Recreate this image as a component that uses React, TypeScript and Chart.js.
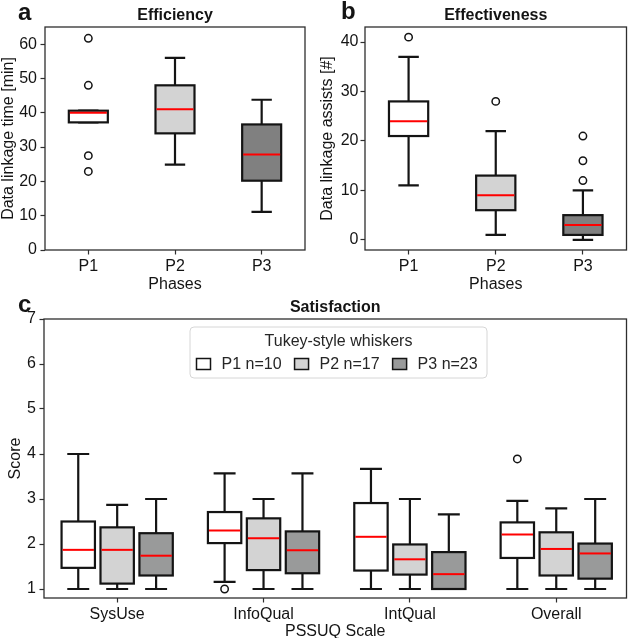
import React, { useEffect, useRef } from "react";
import { Chart, registerables } from "chart.js";

Chart.register(...registerables);

// ---------------- Data ----------------
const phases = ["P1", "P2", "P3"];
const phaseN = [10, 17, 23];

// (a) Efficiency: data linkage time [min]
const effLow = [37.2, 24.9, 11.1];
const effQ1 = [37.2, 34.0, 20.2];
const effMedian = [40.0, 41.0, 27.8];
const effQ3 = [40.6, 48.0, 36.6];
const effHigh = [40.6, 56.0, 43.8];
const effOutliers = [[61.7, 48.0, 27.5, 22.9], [], []];
const effTicks = [0, 10, 20, 30, 40, 50, 60];

// (b) Effectiveness: data linkage assists [#]
const assLow = [11, 1, 0];
const assQ1 = [21, 6, 1];
const assMedian = [24, 9, 3];
const assQ3 = [28, 13, 5];
const assHigh = [37, 22, 10];
const assOutliers = [[41], [28], [21, 16, 12]];
const assTicks = [0, 10, 20, 30, 40];

// (c) Satisfaction: PSSUQ scales
const pssuqScales = ["SysUse", "InfoQual", "IntQual", "Overall"];
const satTicks = [1, 2, 3, 4, 5, 6, 7];

const satP1Low = [1.0, 1.16, 1.0, 1.0];
const satP1Q1 = [1.47, 2.02, 1.41, 1.69];
const satP1Median = [1.87, 2.3, 2.16, 2.21];
const satP1Q3 = [2.5, 2.71, 2.91, 2.48];
const satP1High = [4.0, 3.57, 3.67, 2.96];
const satP1Outliers = [[], [1.0], [], [3.89]];

const satP2Low = [1.0, 1.0, 1.0, 1.0];
const satP2Q1 = [1.12, 1.42, 1.32, 1.3];
const satP2Median = [1.87, 2.13, 1.66, 1.89];
const satP2Q3 = [2.37, 2.57, 1.99, 2.26];
const satP2High = [2.87, 3.0, 3.0, 2.79];
const satP2Outliers = [[], [], [], []];

const satP3Low = [1.0, 1.0, 1.0, 1.0];
const satP3Q1 = [1.3, 1.35, 1.0, 1.23];
const satP3Median = [1.74, 1.86, 1.33, 1.79];
const satP3Q3 = [2.24, 2.28, 1.82, 2.01];
const satP3High = [3.0, 3.57, 2.66, 3.0];
const satP3Outliers = [[], [], [], []];

// ---------------- Styles ----------------
const FONT = "'Liberation Sans', Arial, Helvetica, sans-serif";
const INK = "#141414";
const SPINE = "#2e2e2e";
const FILLS_AB = ["#ffffff", "#d3d3d3", "#808080"];
const FILLS_C = ["#ffffff", "#d3d3d3", "#999a9a"];
const TXT = 16;

type Box = {
  x: number;
  low: number;
  q1: number;
  med: number;
  q3: number;
  high: number;
  outliers: number[];
  fill: string;
  width: number;
  cap: number;
};

type Panel = {
  id: string;
  left: number;
  top: number;
  W: number;
  H: number;
  area: { left: number; top: number; right: number; bottom: number };
  xMin: number;
  xMax: number;
  xTicks: number[];
  xLabels: string[];
  yMin: number;
  yMax: number;
  yTicks: number[];
  yTickPad: number;
  xTickPad: number;
  boxes: Box[];
  title: string;
  titleY: number;
  letter: string;
  letterX: number;
  letterY: number;
  xLabel: string;
  xLabelY: number;
  yLabel: string;
  yLabelX: number;
  legend: boolean;
};

function makeSimpleBoxes(
  low: number[], q1: number[], med: number[], q3: number[], high: number[], outl: number[][]
): Box[] {
  return phases.map((_, i) => ({
    x: i + 1,
    low: low[i],
    q1: q1[i],
    med: med[i],
    q3: q3[i],
    high: high[i],
    outliers: outl[i],
    fill: FILLS_AB[i],
    width: 0.45,
    cap: 0.235,
  }));
}

function makeSatBoxes(): Box[] {
  const sets = [
    [satP1Low, satP1Q1, satP1Median, satP1Q3, satP1High, satP1Outliers],
    [satP2Low, satP2Q1, satP2Median, satP2Q3, satP2High, satP2Outliers],
    [satP3Low, satP3Q1, satP3Median, satP3Q3, satP3High, satP3Outliers],
  ] as any[];
  const offsets = [-0.266, 0, 0.266];
  const out: Box[] = [];
  pssuqScales.forEach((_, g) => {
    sets.forEach((s, p) => {
      out.push({
        x: g + 1 + offsets[p],
        low: s[0][g],
        q1: s[1][g],
        med: s[2][g],
        q3: s[3][g],
        high: s[4][g],
        outliers: s[5][g],
        fill: FILLS_C[p],
        width: 0.228,
        cap: 0.15,
      });
    });
  });
  return out;
}

const panels: Panel[] = [
  {
    id: "a",
    left: 0,
    top: 0,
    W: 316,
    H: 300,
    area: { left: 45, top: 27, right: 305, bottom: 250 },
    xMin: 0.5,
    xMax: 3.5,
    xTicks: [1, 2, 3],
    xLabels: phases,
    yMin: 0,
    yMax: 65,
    yTicks: effTicks,
    yTickPad: 3.5,
    xTickPad: 2,
    boxes: makeSimpleBoxes(effLow, effQ1, effMedian, effQ3, effHigh, effOutliers),
    title: "Efficiency",
    titleY: 20,
    letter: "a",
    letterX: 18,
    letterY: 20,
    xLabel: "Phases",
    xLabelY: 288.5,
    yLabel: "Data linkage time [min]",
    yLabelX: 9,
    legend: false,
  },
  {
    id: "b",
    left: 316,
    top: 0,
    W: 316,
    H: 300,
    area: { left: 49, top: 27, right: 315, bottom: 250 },
    xMin: 0.5,
    xMax: 3.5,
    xTicks: [1, 2, 3],
    xLabels: phases,
    yMin: -2.05,
    yMax: 43.05,
    yTicks: assTicks,
    yTickPad: 2,
    xTickPad: 2,
    boxes: makeSimpleBoxes(assLow, assQ1, assMedian, assQ3, assHigh, assOutliers),
    title: "Effectiveness",
    titleY: 20,
    letter: "b",
    letterX: 25,
    letterY: 19,
    xLabel: "Phases",
    xLabelY: 288.5,
    yLabel: "Data linkage assists [#]",
    yLabelX: 12,
    legend: false,
  },
  {
    id: "c",
    left: 0,
    top: 290,
    W: 632,
    H: 348,
    area: { left: 44, top: 29, right: 627, bottom: 308 },
    xMin: 0.5,
    xMax: 4.48,
    xTicks: [1, 2, 3, 4],
    xLabels: pssuqScales,
    yMin: 0.8,
    yMax: 7,
    yTicks: satTicks,
    yTickPad: 3.5,
    xTickPad: 2,
    boxes: makeSatBoxes(),
    title: "Satisfaction",
    titleY: 22,
    letter: "c",
    letterX: 18,
    letterY: 22,
    xLabel: "PSSUQ Scale",
    xLabelY: 345.5,
    yLabel: "Score",
    yLabelX: 15.5,
    legend: true,
  },
];

function makePlugin(cfg: Panel) {
  return {
    id: "boxdraw_" + cfg.id,
    beforeDatasetsDraw(chart: any) {
      const { ctx } = chart;
      const xs = chart.scales.x;
      const ys = chart.scales.y;
      ctx.save();
      for (const b of cfg.boxes) {
        const xc = xs.getPixelForValue(b.x);
        const hw = xs.getPixelForValue(b.x + b.width / 2) - xc;
        const hc = xs.getPixelForValue(b.x + b.cap / 2) - xc;
        const pLow = ys.getPixelForValue(b.low);
        const pQ1 = ys.getPixelForValue(b.q1);
        const pMed = ys.getPixelForValue(b.med);
        const pQ3 = ys.getPixelForValue(b.q3);
        const pHigh = ys.getPixelForValue(b.high);
        ctx.strokeStyle = INK;
        ctx.lineWidth = 2.2;
        ctx.lineCap = "butt";
        ctx.beginPath();
        ctx.moveTo(xc, pQ3);
        ctx.lineTo(xc, pHigh);
        ctx.moveTo(xc - hc, pHigh);
        ctx.lineTo(xc + hc, pHigh);
        ctx.moveTo(xc, pQ1);
        ctx.lineTo(xc, pLow);
        ctx.moveTo(xc - hc, pLow);
        ctx.lineTo(xc + hc, pLow);
        ctx.stroke();
        ctx.fillStyle = b.fill;
        ctx.fillRect(xc - hw, pQ3, 2 * hw, pQ1 - pQ3);
        ctx.strokeRect(xc - hw, pQ3, 2 * hw, pQ1 - pQ3);
        ctx.strokeStyle = "#ff0000";
        ctx.lineWidth = 2;
        ctx.beginPath();
        ctx.moveTo(xc - hw + 1, pMed);
        ctx.lineTo(xc + hw - 1, pMed);
        ctx.stroke();
      }
      ctx.restore();
    },
    afterDraw(chart: any) {
      const { ctx, chartArea: ca } = chart;
      ctx.save();
      // frame
      ctx.strokeStyle = SPINE;
      ctx.lineWidth = 1.3;
      ctx.strokeRect(ca.left, ca.top, ca.right - ca.left, ca.bottom - ca.top);
      // title
      ctx.fillStyle = INK;
      ctx.textBaseline = "alphabetic";
      ctx.textAlign = "center";
      ctx.font = `bold ${TXT}px ${FONT}`;
      ctx.fillText(cfg.title, (ca.left + ca.right) / 2, cfg.titleY);
      // panel letter
      ctx.textAlign = "left";
      ctx.font = `bold 24px ${FONT}`;
      ctx.fillText(cfg.letter, cfg.letterX, cfg.letterY);
      // x label
      ctx.textAlign = "center";
      ctx.font = `${TXT}px ${FONT}`;
      ctx.fillText(cfg.xLabel, (ca.left + ca.right) / 2, cfg.xLabelY);
      // y label
      ctx.save();
      ctx.translate(cfg.yLabelX, (ca.top + ca.bottom) / 2);
      ctx.rotate(-Math.PI / 2);
      ctx.textBaseline = "middle";
      ctx.fillText(cfg.yLabel, 0, 0);
      ctx.restore();
      // legend
      if (cfg.legend) {
        const lx = 190, ly = 37, lw = 297, lh = 51, r = 4;
        ctx.beginPath();
        ctx.moveTo(lx + r, ly);
        ctx.arcTo(lx + lw, ly, lx + lw, ly + lh, r);
        ctx.arcTo(lx + lw, ly + lh, lx, ly + lh, r);
        ctx.arcTo(lx, ly + lh, lx, ly, r);
        ctx.arcTo(lx, ly, lx + lw, ly, r);
        ctx.closePath();
        ctx.fillStyle = "rgba(255,255,255,0.85)";
        ctx.fill();
        ctx.strokeStyle = "#d6d6d6";
        ctx.lineWidth = 1;
        ctx.stroke();
        ctx.fillStyle = "#262626";
        ctx.textAlign = "center";
        ctx.textBaseline = "alphabetic";
        ctx.font = `${TXT}px ${FONT}`;
        ctx.fillText("Tukey-style whiskers", lx + lw / 2, 56);
        ctx.textAlign = "left";
        let cx = 196.5;
        phases.forEach((p, i) => {
          ctx.fillStyle = FILLS_C[i];
          ctx.fillRect(cx, 68.5, 14, 11);
          ctx.strokeStyle = INK;
          ctx.lineWidth = 1.5;
          ctx.strokeRect(cx, 68.5, 14, 11);
          const label = `${p} n=${phaseN[i]}`;
          ctx.fillStyle = "#262626";
          ctx.fillText(label, cx + 25, 79);
          cx = cx + 25 + ctx.measureText(label).width + 13;
        });
      }
      ctx.restore();
    },
  };
}

function BoxPanel({ cfg }: { cfg: Panel }) {
  const ref = useRef<HTMLCanvasElement | null>(null);
  useEffect(() => {
    if (!ref.current) return;
    const outlierData = cfg.boxes.flatMap((b) => b.outliers.map((v) => ({ x: b.x, y: v })));
    const tickFont = { family: FONT, size: TXT };
    const chart = new Chart(ref.current, {
      type: "scatter",
      data: {
        datasets: [
          {
            data: outlierData,
            pointStyle: "circle",
            pointRadius: 3.7,
            pointBackgroundColor: "rgba(255,255,255,1)",
            pointBorderColor: INK,
            pointBorderWidth: 1.5,
          },
        ],
      },
      options: {
        responsive: false,
        animation: false,
        events: [],
        layout: {
          padding: { left: 0, top: cfg.area.top, right: cfg.W - cfg.area.right, bottom: 0 },
        },
        plugins: {
          legend: { display: false },
          tooltip: { enabled: false },
          title: { display: false },
        },
        scales: {
          x: {
            type: "linear",
            min: cfg.xMin,
            max: cfg.xMax,
            bounds: "data",
            afterFit: (s: any) => {
              s.height = cfg.H - cfg.area.bottom;
            },
            afterBuildTicks: (s: any) => {
              s.ticks = cfg.xTicks.map((v) => ({ value: v }));
            },
            ticks: {
              callback: (_v: any, i: number) => cfg.xLabels[i],
              font: tickFont,
              color: INK,
              padding: cfg.xTickPad,
              maxRotation: 0,
              autoSkip: false,
            },
            grid: {
              drawOnChartArea: false,
              drawTicks: true,
              tickLength: 4.5,
              tickColor: SPINE,
              tickWidth: 1.2,
            },
            border: { display: false },
          },
          y: {
            type: "linear",
            min: cfg.yMin,
            max: cfg.yMax,
            bounds: "data",
            afterFit: (s: any) => {
              s.width = cfg.area.left;
            },
            afterBuildTicks: (s: any) => {
              s.ticks = cfg.yTicks.map((v) => ({ value: v }));
            },
            ticks: {
              callback: (v: any) => String(v),
              font: tickFont,
              color: INK,
              padding: cfg.yTickPad,
              autoSkip: false,
            },
            grid: {
              drawOnChartArea: false,
              drawTicks: true,
              tickLength: 4.5,
              tickColor: SPINE,
              tickWidth: 1.2,
            },
            border: { display: false },
          },
        },
      },
      plugins: [makePlugin(cfg)],
    } as any);
    return () => chart.destroy();
  }, [cfg]);
  return (
    <canvas
      ref={ref}
      width={cfg.W}
      height={cfg.H}
      style={{ position: "absolute", left: cfg.left, top: cfg.top, width: cfg.W, height: cfg.H }}
    />
  );
}

export default function App() {
  return (
    <div
      style={{
        position: "absolute",
        left: 0,
        top: 0,
        width: 632,
        height: 638,
        background: "#ffffff",
        overflow: "hidden",
      }}
    >
      {panels.map((p) => (
        <BoxPanel key={p.id} cfg={p} />
      ))}
    </div>
  );
}
